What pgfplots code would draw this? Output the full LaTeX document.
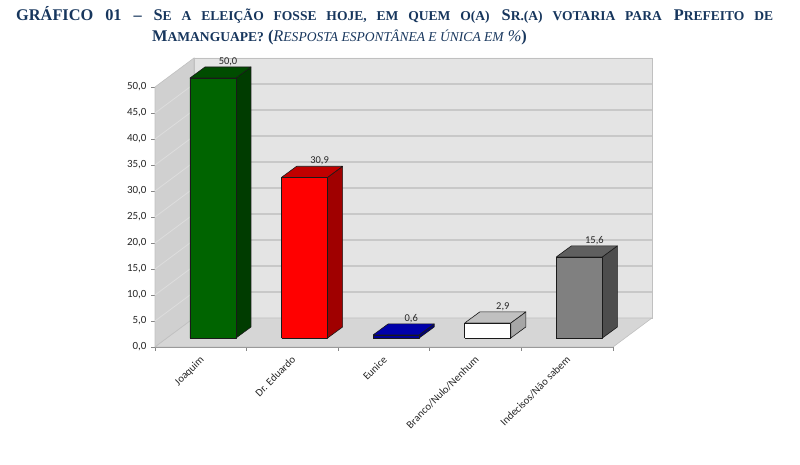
\documentclass[border=0pt]{standalone}
\usepackage{pgfplots}
\pgfplotsset{compat=1.18}
\usepackage{pgfplotstable}
\usepackage{fontspec}
\setmainfont{Carlito}
\newfontfamily\titlefont{Liberation Serif}
\definecolor{titleblue}{HTML}{17365D}
\definecolor{axisgray}{HTML}{868686}
\definecolor{labelgray}{HTML}{262626}
\definecolor{backwall}{HTML}{E4E4E4}
\definecolor{sidewall}{HTML}{D0D0D0}
\definecolor{floorc}{HTML}{D6D6D6}
\definecolor{backgrid}{HTML}{C8C8C8}
\definecolor{sidegrid}{HTML}{DDDDDD}
\definecolor{walledge}{HTML}{C0C0C0}
\definecolor{baredge}{HTML}{1A1A1A}
\definecolor{gF}{HTML}{006400}\definecolor{gT}{HTML}{004C00}\definecolor{gS}{HTML}{003C00}
\definecolor{rF}{HTML}{FF0000}\definecolor{rT}{HTML}{C00000}\definecolor{rS}{HTML}{A00000}
\definecolor{bF}{HTML}{000096}\definecolor{bT}{HTML}{0000AA}\definecolor{bS}{HTML}{000078}
\definecolor{wF}{HTML}{FFFFFF}\definecolor{wT}{HTML}{C0C0C0}\definecolor{wS}{HTML}{A6A6A6}
\definecolor{kF}{HTML}{808080}\definecolor{kT}{HTML}{5F5F5F}\definecolor{kS}{HTML}{4D4D4D}

\pgfplotstableread{
x v
0 50.0
1 30.9
2 0.6
3 2.9
4 15.6
}\votes

\newcommand\tsc[1]{{\fontsize{13.6}{14}\selectfont #1}}

% #1 row, #2 front, #3 top, #4 side
\newcommand\threedbar[4]{%
  \pgfplotstablegetelem{#1}{v}\of\votes
  \let\barval\pgfplotsretval
  \pgfmathsetmacro\xl{#1+0.382}%
  \pgfmathsetmacro\xr{#1+0.884}%
  \pgfmathsetmacro\xlb{#1+0.546}%
  \pgfmathsetmacro\xrb{#1+1.048}%
  \pgfmathsetmacro\yt{\barval+1.73}%
  \pgfmathsetmacro\ytb{\barval+3.85}%
  \edef\doplots{%
    \noexpand\addplot[fill=#4,draw=baredge,line width=0.6bp,line join=round] coordinates {(\xr,1.73)(\xrb,3.85)(\xrb,\ytb)(\xr,\yt)(\xr,1.73)};
    \noexpand\addplot[fill=#3,draw=baredge,line width=0.6bp,line join=round] coordinates {(\xl,\yt)(\xr,\yt)(\xrb,\ytb)(\xlb,\ytb)(\xl,\yt)};
    \noexpand\addplot[fill=#2,draw=baredge,line width=0.6bp,line join=round] coordinates {(\xl,1.73)(\xr,1.73)(\xr,\yt)(\xl,\yt)(\xl,1.73)};
  }\doplots
}

\begin{document}
\begin{tikzpicture}
\useasboundingbox (0,0) rectangle (800bp,465bp);
\node[anchor=base west, inner sep=0pt, text=titleblue] at (16bp,444bp)
  {\titlefont\bfseries\fontsize{16.4}{18}\selectfont\makebox[757bp][s]{GRÁFICO 01 – S\tsc{E A ELEIÇÃO FOSSE HOJE, EM QUEM O(A)} S\tsc{R.(A) VOTARIA PARA} P\tsc{REFEITO DE}}};
\node[anchor=base west, inner sep=0pt, text=titleblue] at (152bp,423bp)
  {\titlefont\bfseries\fontsize{16.4}{18}\selectfont M\tsc{AMANGUAPE?} ({\mdseries\itshape R\tsc{ESPOSTA ESPONTÂNEA E ÚNICA EM} \%})};
\begin{axis}[
  at={(155bp,118bp)}, anchor=south west,
  scale only axis, width=458bp, height=260bp,
  xmin=0, xmax=5, ymin=0, ymax=50,
  clip=false,
  axis x line*=bottom, axis y line*=left,
  axis line style={draw=axisgray, line width=0.8bp},
  tick align=outside, major tick length=4bp,
  tick style={draw=axisgray, line width=0.8bp},
  ytick={0,5,...,50},
  xtick={0,1,2,3,4,5}, xticklabels={},
  extra x ticks={0.5,1.5,2.5,3.5,4.5},
  extra x tick labels={Joaquim,Dr. Eduardo,Eunice,Branco/Nulo/Nenhum,Indecisos/Não sabem},
  extra x tick style={major tick length=0pt,
     tick label style={xshift=-1.5bp, yshift=-6.5bp, rotate=45, anchor=north east, inner sep=1bp, font=\fontsize{10.8}{12}\selectfont}},
  ticklabel style={text=labelgray},
  y tick label style={font=\fontsize{11}{12}\selectfont, xshift=-1bp},
  /pgf/number format/fixed, /pgf/number format/fixed zerofill,
  /pgf/number format/precision=1, /pgf/number format/use comma,
  /pgf/number format/assume math mode=true,
]
% walls
\addplot[fill=backwall, draw=walledge, line width=0.6bp] coordinates {(0.426,5.58)(5.426,5.58)(5.426,55.58)(0.426,55.58)(0.426,5.58)};
\addplot[fill=sidewall, draw=walledge, line width=0.6bp] coordinates {(0,0)(0.426,5.58)(0.426,55.58)(0,50)(0,0)};
% side wall gridlines
\addplot[draw=sidegrid, line width=0.8bp] coordinates {(0,5)(0.426,10.58)};
\addplot[draw=sidegrid, line width=0.8bp] coordinates {(0,10)(0.426,15.58)};
\addplot[draw=sidegrid, line width=0.8bp] coordinates {(0,15)(0.426,20.58)};
\addplot[draw=sidegrid, line width=0.8bp] coordinates {(0,20)(0.426,25.58)};
\addplot[draw=sidegrid, line width=0.8bp] coordinates {(0,25)(0.426,30.58)};
\addplot[draw=sidegrid, line width=0.8bp] coordinates {(0,30)(0.426,35.58)};
\addplot[draw=sidegrid, line width=0.8bp] coordinates {(0,35)(0.426,40.58)};
\addplot[draw=sidegrid, line width=0.8bp] coordinates {(0,40)(0.426,45.58)};
\addplot[draw=sidegrid, line width=0.8bp] coordinates {(0,45)(0.426,50.58)};
% back wall gridlines
\addplot[draw=backgrid, line width=1.2bp] coordinates {(0.426,10.58)(5.426,10.58)};
\addplot[draw=backgrid, line width=1.2bp] coordinates {(0.426,15.58)(5.426,15.58)};
\addplot[draw=backgrid, line width=1.2bp] coordinates {(0.426,20.58)(5.426,20.58)};
\addplot[draw=backgrid, line width=1.2bp] coordinates {(0.426,25.58)(5.426,25.58)};
\addplot[draw=backgrid, line width=1.2bp] coordinates {(0.426,30.58)(5.426,30.58)};
\addplot[draw=backgrid, line width=1.2bp] coordinates {(0.426,35.58)(5.426,35.58)};
\addplot[draw=backgrid, line width=1.2bp] coordinates {(0.426,40.58)(5.426,40.58)};
\addplot[draw=backgrid, line width=1.2bp] coordinates {(0.426,45.58)(5.426,45.58)};
\addplot[draw=backgrid, line width=1.2bp] coordinates {(0.426,50.58)(5.426,50.58)};
% floor
\addplot[fill=floorc, draw=walledge, line width=0.6bp] coordinates {(0,0)(5,0)(5.426,5.58)(0.426,5.58)(0,0)};
% bars
\threedbar{0}{gF}{gT}{gS}
\threedbar{1}{rF}{rT}{rS}
\threedbar{2}{bF}{bT}{bS}
\threedbar{3}{wF}{wT}{wS}
\threedbar{4}{kF}{kT}{kS}
% value labels
\addplot[draw=none, mark=none, nodes near coords, point meta=explicit,
  nodes near coords style={anchor=south, inner sep=1bp, text=labelgray, font=\fontsize{10.5}{12}\selectfont}]
  table[x expr=\thisrow{x}+0.797, y expr=\thisrow{v}+3.85, meta=v]{\votes};
\end{axis}
\end{tikzpicture}
\end{document}
